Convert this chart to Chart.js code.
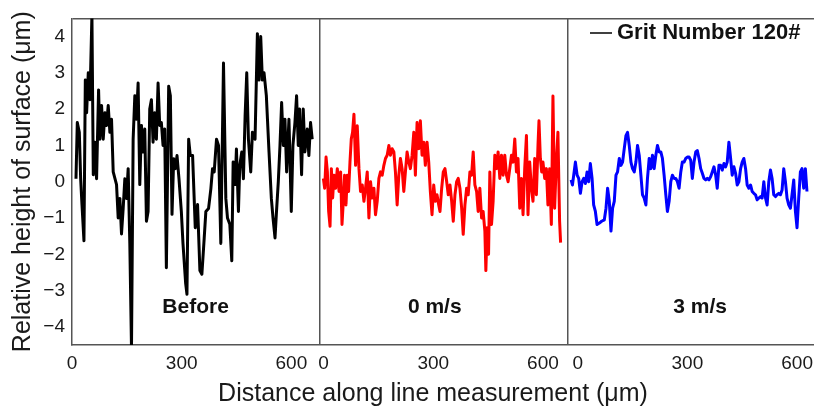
<!DOCTYPE html>
<html>
<head>
<meta charset="utf-8">
<script src="https://cdn.jsdelivr.net/npm/chart.js@4.4.0/dist/chart.umd.min.js"></script>
<style>
html,body{margin:0;padding:0;overflow:hidden;background:#fff;}
#wrap{width:820px;height:407px;}
</style>
</head>
<body>
<div id="wrap"><canvas id="c" width="820" height="407"></canvas></div>
<script>
// ---------- data ----------
const panelNames = ['Before', '0 m/s', '3 m/s'];
const panelMin = [0, -10, -27];
const panelMax = [678, 668, 651];
const panelLabelX = [338, 304, 335];
const panelLabelY = -3.46;
const xTickValues = [0, 300, 600];
const yTickValues = [-4, -3, -2, -1, 0, 1, 2, 3, 4];
const legendText = 'Grit Number 120#';
const xTitle = 'Distance along line measurement (\u03bcm)';
const yTitle = 'Relative height of surface (\u03bcm)';

const beforeX = [10.9,14.5,20.0,23.6,27.3,32.7,36.4,40.0,44.5,49.1,54.5,58.2,62.7,67.2,72.7,76.3,80.9,85.4,90.0,94.5,99.1,103.6,108.1,112.7,121.8,126.3,130.9,135.4,139.9,144.5,149.0,153.6,158.1,162.7,167.2,171.8,176.3,180.8,185.4,189.9,194.5,199.0,203.6,208.1,212.6,217.2,221.7,226.3,230.8,235.4,239.9,244.4,249.0,253.5,258.1,264.4,269.0,273.5,278.1,282.6,287.2,292.6,299.0,303.5,310.8,314.4,319.0,323.5,329.8,337.1,343.4,349.8,355.2,361.6,366.1,373.4,379.8,384.3,388.9,395.2,400.7,407.0,414.3,420.7,425.2,431.6,437.0,440.7,446.1,449.7,455.2,458.8,464.3,468.8,473.4,477.9,482.5,488.8,493.4,500.6,507.0,511.5,516.1,520.6,525.2,531.5,538.8,545.2,549.7,555.2,558.8,564.2,568.8,573.3,577.9,582.4,587.0,593.3,599.7,604.2,609.7,614.2,618.8,622.4,627.9,632.4,636.9,643.3,647.8,652.4,656.9];
const beforeY = [0.08,1.63,1.36,0.1,-0.63,-1.63,2.8,1.9,3.0,2.26,4.6,0.19,1.09,0.08,2.53,1.17,2.1,1.17,1.9,1.55,2.1,1.36,1.72,0.27,-0.08,-1.0,-0.46,-1.44,-0.74,0.08,-0.46,0.36,-1.7,-4.6,1.17,2.37,1.72,2.72,-0.08,1.55,0.82,1.45,-1.09,-0.82,2.0,2.26,1.09,1.9,1.17,2.72,1.55,1.63,1.0,1.45,-2.37,2.63,2.37,-0.9,0.63,0.36,0.72,0.08,-0.82,-1.7,-2.8,-3.1,1.17,0.72,0.72,-1.27,-0.63,-2.45,-2.55,-1.55,-0.82,-0.74,-0.19,0.36,0.27,1.17,1.0,-1.7,3.27,-0.46,-1.0,-1.17,-2.18,0.54,-0.08,0.9,-0.82,0.45,0.82,0.08,1.81,3.0,1.17,0.27,1.36,1.17,4.08,2.8,4.0,2.8,3.0,2.37,0.82,-0.46,-1.0,-1.55,-0.9,0,1.0,2.18,1.0,1.72,0.27,1.72,-0.82,1.0,1.63,2.37,1.0,2.0,0.19,2.0,0.82,1.45,0.72,1.63,1.17];

const zeroX = [-0.5,3.0,6.8,10.4,13.9,17.7,21.3,24.8,28.6,33.0,37.6,42.3,46.6,50.4,54.0,57.5,61.3,64.9,68.4,72.2,75.8,79.3,83.1,87.5,92.1,96.8,101.1,105.8,110.4,114.8,119.4,124.0,128.4,133.0,137.7,142.0,146.7,151.3,155.7,160.3,164.9,169.3,173.9,178.6,182.9,187.5,192.2,196.5,201.2,205.8,210.2,214.8,219.4,223.8,228.4,233.1,237.4,242.1,246.7,251.1,255.7,260.3,264.7,269.3,274.0,278.3,283.0,287.6,292.0,296.6,301.2,305.6,310.2,314.9,318.4,323.0,327.4,332.0,336.7,341.0,345.7,350.3,354.7,359.3,363.9,368.3,372.9,377.6,381.9,386.6,391.2,395.5,400.2,404.8,409.2,413.8,418.5,422.8,427.4,432.1,436.4,441.1,443.8,447.3,451.2,454.7,459.3,463.7,468.3,473.0,477.3,482.0,486.6,491.0,495.6,500.2,504.6,509.2,513.9,518.2,522.9,527.5,531.8,536.5,541.1,545.5,550.1,554.8,559.1,563.7,568.4,572.7,577.4,582.0,586.4,589.1,592.9,596.5,600.0,604.7,609.3,613.6,618.3,622.9,627.3,631.9,636.5,640.9,645.5,648.2];
const zeroY = [0.09,-0.18,0.68,0.27,-0.82,-1.23,0.36,-0.45,0.18,-0.18,0.36,-0.27,0.27,-1.18,-0.54,0.18,-0.64,0.18,-0.27,0.54,1.18,1.36,1.86,0.45,1.54,0.36,-0.27,-0.09,-0.54,-0.18,0.27,-1.0,0,-0.45,-0.18,-0.91,-0.54,0.09,0.27,0.18,0.45,0.64,0.73,1.0,0.73,0.91,0.82,0.27,-0.64,0.18,0.64,0.36,-0.27,0.27,0.82,0.54,0.36,0.73,1.36,0.18,1.63,0.91,1.68,0.73,1.09,0.45,1.09,0.54,-0.27,-0.91,-0.09,-0.54,-0.36,-0.64,-0.82,-0.18,0.27,0.36,0,-0.36,-0.09,-0.54,-1.09,-0.36,0,0.09,-0.18,-0.73,-1.45,-0.64,-0.18,-0.36,0.27,0.18,0.82,-0.09,-0.27,-0.82,-0.18,-1.0,-0.82,-1.36,-2.45,-1.27,-2.0,0.27,-1.18,-0.54,0.73,0.36,0.82,0.09,0.73,0.18,0.73,0.18,0,0.36,0.73,0.54,1.18,0.27,0.64,-0.73,0.09,-0.91,0.36,1.27,-0.91,0.54,-0.18,-0.54,0.64,-0.36,1.0,1.68,0.64,0.27,0.54,0.09,0.36,-0.64,0.36,-1.18,2.36,-0.73,0.54,1.36,-1.09,-1.68];

const threeX = [-18.0,-14.4,-10.9,-6.3,-1.6,2.7,7.4,12.0,16.4,21.0,25.6,30.0,34.6,39.3,43.6,48.3,52.9,59.2,65.4,72.8,77.4,81.8,86.4,91.0,95.4,100.0,104.7,109.0,113.7,118.3,122.7,127.3,131.9,136.3,140.9,145.6,149.9,154.6,159.2,163.6,168.2,172.8,177.2,181.8,186.5,190.8,195.5,200.1,204.5,209.1,213.7,218.1,222.7,227.3,231.7,236.3,241.0,245.3,250.0,254.6,259.0,263.6,268.2,272.6,277.2,281.9,286.2,290.9,295.5,299.9,304.5,309.1,313.5,318.1,322.8,327.1,331.8,336.4,340.8,345.4,350.0,354.4,359.0,363.7,368.0,372.7,377.3,381.6,386.3,390.9,395.3,399.9,404.6,408.9,413.5,418.2,422.5,427.2,431.8,436.2,440.8,445.5,449.8,454.4,459.1,463.4,468.1,472.7,477.1,481.7,486.3,490.7,495.3,500.0,504.3,509.0,513.6,518.0,522.6,527.2,531.6,536.2,540.9,545.2,549.9,554.5,558.9,563.5,568.1,572.5,577.1,581.8,586.1,590.8,595.4,599.8,604.4,609.0,613.4,618.0,622.6,627.0];
const threeY = [0.05,-0.09,0.18,0.54,0.18,0.09,-0.32,0,0.09,-0.05,0.27,0,0.5,0.09,-0.64,-0.82,-1.18,-1.14,-1.09,-1.05,-0.73,-0.18,-0.54,-1.36,-0.73,-0.54,0.18,0.27,0.64,0.45,0.54,0.91,1.27,1.36,1.0,0.54,0.36,0.27,0.54,1.0,0.73,0.18,-0.36,-0.45,-0.64,0.09,0.64,0.36,0.73,0.36,0.73,1.0,0.82,0.82,0.64,0.18,-0.36,-0.82,-0.54,0,0.18,0.09,0.09,0,-0.18,0.27,0.54,0.54,0.64,0.68,0.68,0.59,0.09,0.54,0.82,0.86,0.64,0.36,0.23,0.09,0.05,0.09,0.05,0.14,0.27,0.41,0.18,-0.18,0.45,0.45,0.32,0.5,0.41,0.54,1.09,0.64,0.18,0.41,0.23,-0.09,0,0.36,0.54,0.64,0.36,-0.09,-0.18,-0.09,-0.27,-0.32,-0.36,-0.5,-0.45,-0.41,-0.45,0,-0.45,-0.64,0,0.32,0.09,-0.36,-0.41,-0.36,-0.32,-0.36,-0.23,0.36,0,-0.45,-0.64,-0.73,-0.36,0.05,-0.82,-1.27,-0.45,0.27,0.36,-0.18,0.36,-0.27];

// ---------- build ----------
const FONT = 'Arial, "Liberation Sans", Helvetica, sans-serif';
Chart.defaults.font.family = FONT;
Chart.defaults.color = '#1a1a1a';
const FRAME = '#555555';

const offsets = panelMin.map((m, i) => {
  let s = 0;
  for (let k = 0; k < i; k++) s += panelMax[k] - panelMin[k];
  return s - m;
});
const totalSpan = panelMax.reduce((s, m, i) => s + m - panelMin[i], 0);

const xTickDefs = [];
panelMin.forEach((m, i) => {
  if (i > 0) xTickDefs.push({value: offsets[i] + m, label: '', edge: true});
  xTickValues.forEach(v => xTickDefs.push({value: offsets[i] + v, label: String(v), edge: false}));
});
const yTickDefs = [-4.5, ...yTickValues, 4.5];

function series(xs, ys, p) { return xs.map((x, i) => ({x: x + offsets[p], y: ys[i]})); }

const seriesDefs = [
  {label: legendText, xs: beforeX, ys: beforeY, color: '#000000'},
  {label: '0 m/s', xs: zeroX, ys: zeroY, color: '#ff0000'},
  {label: '3 m/s', xs: threeX, ys: threeY, color: '#0000ff'}
];

const annot = {
  id: 'annot',
  afterDatasetsDraw(chart) {
    const {ctx} = chart;
    const x = chart.scales.x, y = chart.scales.y;
    ctx.save();
    ctx.fillStyle = '#111';
    ctx.textAlign = 'center';
    ctx.textBaseline = 'middle';
    ctx.font = 'bold 21px ' + FONT;
    panelNames.forEach((n, i) => {
      ctx.fillText(n, x.getPixelForValue(offsets[i] + panelLabelX[i]), y.getPixelForValue(panelLabelY));
    });
    // legend
    ctx.strokeStyle = '#000';
    ctx.lineWidth = 1.5;
    ctx.beginPath(); ctx.moveTo(590, 33); ctx.lineTo(612, 33); ctx.stroke();
    ctx.textAlign = 'left';
    ctx.font = 'bold 22px ' + FONT;
    ctx.fillText(chart.data.datasets[0].label, 617, 33);
    // x title
    ctx.font = '25px ' + FONT;
    ctx.fillStyle = '#1a1a1a';
    ctx.textAlign = 'center';
    ctx.fillText(xTitle, 433, 394);
    ctx.restore();
  }
};

new Chart(document.getElementById('c'), {
  type: 'line',
  data: {
    datasets: seriesDefs.map((s, p) => ({
      label: s.label,
      data: series(s.xs, s.ys, p),
      borderColor: s.color,
      backgroundColor: s.color,
      borderWidth: 3,
      pointRadius: 0,
      tension: 0,
      fill: false,
      borderJoinStyle: 'round'
    }))
  },
  options: {
    responsive: false,
    devicePixelRatio: 1,
    animation: false,
    events: [],
    layout: {padding: {top: 14, right: 2, left: 0, bottom: 0}},
    plugins: {legend: {display: false}, tooltip: {enabled: false}, title: {display: false}},
    scales: {
      x: {
        type: 'linear',
        min: 0,
        max: totalSpan,
        afterBuildTicks: (scale) => { scale.ticks = xTickDefs.map(t => ({value: t.value})); },
        afterFit: (scale) => { scale.height = 62; },
        ticks: {
          autoSkip: false,
          maxRotation: 0,
          padding: 7,
          font: {size: 19},
          color: '#1a1a1a',
          callback: (v, i) => xTickDefs[i] ? xTickDefs[i].label : ''
        },
        grid: {
          display: true,
          drawTicks: false,
          lineWidth: 1.5,
          color: (ctx) => {
            const t = xTickDefs.find(d => ctx.tick && Math.abs(d.value - ctx.tick.value) < 1e-6);
            return t && t.edge ? FRAME : 'rgba(0,0,0,0)';
          }
        },
        border: {display: true, color: FRAME, width: 1.5}
      },
      y: {
        type: 'linear',
        min: -4.5,
        max: 4.5,
        afterBuildTicks: (scale) => { scale.ticks = yTickDefs.map(v => ({value: v})); },
        afterFit: (scale) => { scale.width = 72; },
        ticks: {
          padding: 7,
          font: {size: 19},
          color: '#1a1a1a',
          callback: (v) => (Math.abs(v) > 4.4 ? '' : (v < 0 ? '\u2212' + Math.abs(v) : String(v)))
        },
        grid: {
          display: true,
          drawTicks: false,
          lineWidth: 1.5,
          color: (ctx) => (ctx.tick && ctx.tick.value > 4.4 ? FRAME : 'rgba(0,0,0,0)')
        },
        border: {display: true, color: FRAME, width: 1.5},
        title: {
          display: true,
          text: yTitle,
          font: {size: 25},
          color: '#1a1a1a',
          padding: {top: 8, bottom: 0}
        }
      }
    }
  },
  plugins: [annot]
});
</script>
</body>
</html>
